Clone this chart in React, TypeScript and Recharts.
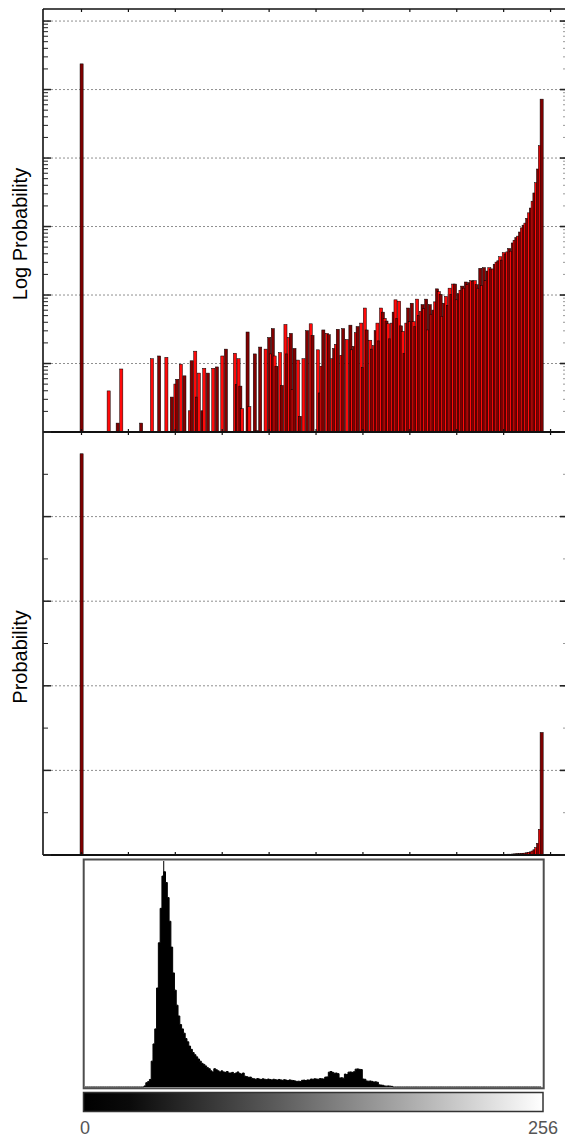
import React from 'react';
import { BarChart, Bar, XAxis, YAxis, CartesianGrid, ReferenceLine, AreaChart, Area } from 'recharts';

// ---------- DATA ----------
// log10 of the probability of each of the 256 bins (null = empty bin)
const logProbability: (number | null)[] = [
  -0.625, null, null, null, null, null, null, null, null, null, null, null, null, null, null, -5.40,
  null, null, null, null, -5.87, null, -5.08, null, null, null, null, null, null, null, null, null,
  null, -5.87, null, null, null, null, null, -4.93, null, null, null, -4.89, null, null, null, -4.91,
  null, null, -5.49, null, -5.30, -5.23, null, -5.01, null, -5.18, null, null, -5.69, -4.96, null, -4.82,
  -5.49, -5.14, null, -5.69, -5.07, null, -5.14, null, null, -5.07, null, -5.05, null, null, -4.89, null,
  -4.79, null, null, null, null, -4.85, -5.31, -4.93, -5.33, -5.66, null, null, -4.54, -5.63, null, null,
  -4.86, -5.98, null, -4.76, null, null, -4.79, null, -4.62, -4.86, -4.49, -4.89, -5.04, null, -4.84, -5.32,
  null, -4.43, -4.86, -4.62, -4.56, -5.38, -4.78, null, -4.95, -5.77, null, -4.93, null, -4.52, null, -4.42,
  -4.59, null, null, -4.80, -5.43, -5.04, -4.51, null, -4.56, -4.58, null, -4.93, -4.78, -4.72, -4.50, null,
  -4.88, -4.49, null, -4.65, null, -4.44, -4.80, -4.75, -4.55, -4.46, null, -4.41, -5.06, -4.19, -4.51, null,
  -4.66, -4.79, -4.74, -4.52, -4.41, -4.67, -4.19, -4.25, -4.34, -4.38, -4.42, -4.64, -4.41, -4.25, -4.07, -4.34,
  -4.09, -4.45, -4.53, -4.85, -4.41, -4.19, -4.39, -4.12, -4.39, -4.46, -4.06, -4.30, -4.24, -4.14, -4.20, -4.06,
  -4.51, -4.14, -4.28, -4.22, -4.10, -3.91, -3.95, -3.99, -4.31, -4.12, -4.02, -4.15, -3.90, -3.99, -3.84, -3.84,
  -4.07, -3.98, -3.93, -3.87, -3.90, -3.81, -3.85, -3.82, -3.79, -3.80, -3.79, -3.85, -3.90, -3.61, -3.86, -3.60,
  -3.79, -3.65, -3.60, -3.62, -3.62, -3.55, -3.52, -3.50, -3.44, -3.49, -3.38, -3.40, -3.37, -3.32, -3.36, -3.24,
  -3.20, -3.16, -3.14, -3.08, -3.02, -2.98, -2.95, -2.88, -2.80, -2.73, -2.63, -2.51, -2.36, -2.16, -1.82, -1.14,
];

// intensity histogram (relative counts, peak = 100) for gray levels 0..255
const histogramCounts: number[] = [
  0, 0, 0, 0, 0, 0, 0, 0, 0, 0, 0, 0, 0, 0, 0, 0,
  0, 0, 0, 0, 0, 0, 0, 0, 0, 0, 0, 0, 0, 0, 0, 0,
  0, 0.5, 2, 2.5, 3.5, 12, 20, 27, 46, 67, 83, 98, 100, 95, 88, 77,
  65, 53, 45, 38, 33, 29, 27, 25, 22.5, 21, 19, 17.5, 16, 15, 14, 13,
  12, 11, 10.5, 9.8, 9, 8.5, 7.5, 7, 8.5, 8, 7.5, 7, 7.5, 7, 6.8, 7.2,
  6.5, 6.5, 6.8, 6.2, 6.5, 7, 6.3, 6, 6.5, 5, 4.8, 4.5, 4.6, 4, 3.8, 3.6,
  3.9, 3.7, 3.5, 3.8, 3.6, 3.4, 3.7, 3.5, 3.3, 3.6, 3.4, 3.2, 3.5, 3.3, 3.1, 3.4,
  3.2, 3.0, 3.3, 3.1, 3.0, 2.8, 2.6, 2.7, 2.5, 3.1, 3.2, 3.0, 3.3, 3.2, 3.7, 3.6,
  3.8, 3.7, 3.6, 3.9, 3.8, 3.7, 4.6, 4.7, 6.9, 7.2, 6.8, 6.4, 6.5, 6.2, 4.2, 4.3,
  4.1, 6.0, 5.8, 6.9, 7.0, 6.8, 7.1, 8.3, 8.4, 8.2, 8.1, 3.7, 3.6, 2.8, 2.7, 2.8,
  2.6, 2.3, 2.4, 2.2, 1.0, 0.9, 0.8, 0.5, 0.4, 0.5, 0.4, 0.3, 0, 0, 0, 0,
  0, 0, 0, 0, 0, 0, 0, 0, 0, 0, 0, 0, 0, 0, 0, 0,
  0, 0, 0, 0, 0, 0, 0, 0, 0, 0, 0, 0, 0, 0, 0, 0,
  0, 0, 0, 0, 0, 0, 0, 0, 0, 0, 0, 0, 0, 0, 0, 0,
  0, 0, 0, 0, 0, 0, 0, 0, 0, 0, 0, 0, 0, 0, 0, 0,
  0, 0, 0, 0, 0, 0, 0, 0, 0, 0, 0, 0, 0, 0, 0, 0,
];

const binTicks = [0, 26, 52, 78, 104, 130, 156, 182, 208, 234, 260];
const logDecades = [1e-6, 1e-5, 1e-4, 1e-3, 1e-2, 1e-1, 1];
const minorMultipliers = [2, 3, 4, 5, 6, 7, 8, 9];
const logGridValues = [1e-5, 1e-4, 1e-3, 1e-2, 1e-1, 1];
const linearTicks = [0, 0.025, 0.05, 0.075, 0.1, 0.125, 0.15, 0.175, 0.2, 0.225, 0.25];
const linearGridValues = [0.05, 0.1, 0.15, 0.2];
const grayTickLabels = [0, 256];
const peakGrayLevel = 44;
const yLabels = ['Log Probability', 'Probability'];

// ---------- derived tables ----------
const barData = logProbability.map((lp, i) => ({
  bin: i,
  p: lp === null ? null : Math.pow(10, lp),
}));
const histData = histogramCounts.map((c, i) => ({ level: i, count: c }));
const LOG_DOMAIN: [number, number] = [1e-6, 1.5];
const logTicks: number[] = [];
logDecades.forEach((d) => {
  logTicks.push(d);
  minorMultipliers.forEach((m) => {
    if (m * d <= LOG_DOMAIN[1]) logTicks.push(m * d);
  });
});

// ---------- layout ----------
const W = 565;
const PLOT_LEFT = 43;
const PLOT_RIGHT = 565;
const X_DOMAIN: [number, number] = [-21.34, 268.0];
const DARK = '#800000';
const BRIGHT = '#ff0a0a';
const BW = 3.1;
const FONT = '"Liberation Sans", Arial, sans-serif';

const barShape = (props: any) => {
  const { x, y, width, height, index } = props;
  if (height == null || !isFinite(y) || !(height > 0.6)) return <g />;
  const cx = x + width / 2;
  return (
    <rect
      x={cx - BW / 2}
      y={y}
      width={BW}
      height={height}
      fill={index % 2 === 0 ? DARK : BRIGHT}
      stroke="#000"
      strokeWidth={0.5}
    />
  );
};

const makeXTick = (top: number, bottom: number) => (props: any) => {
  const { x } = props;
  return (
    <g>
      <line x1={x} x2={x} y1={bottom} y2={bottom - 3} stroke="#111" strokeWidth={1.2} />
      <line x1={x} x2={x} y1={top} y2={top + 3} stroke="#111" strokeWidth={1.2} />
    </g>
  );
};

const makeYTick = (isMajor: (v: number) => boolean) => (props: any) => {
  const { y, payload } = props;
  const major = isMajor(payload.value);
  return (
    <g>
      <line x1={PLOT_LEFT} x2={PLOT_LEFT + (major ? 8 : 5)} y1={y} y2={y} stroke="#222" strokeWidth={major ? 1.5 : 1} />
      <line
        x1={PLOT_RIGHT - (major ? 5 : 2)}
        x2={PLOT_RIGHT}
        y1={y}
        y2={y}
        stroke={major ? '#222' : '#999'}
        strokeWidth={major ? 1.6 : 1}
      />
    </g>
  );
};

const isLogMajor = (v: number) => Math.abs(Math.log10(v) - Math.round(Math.log10(v))) < 1e-6;
const isLinMajor = (v: number) => Math.abs(v / 0.05 - Math.round(v / 0.05)) < 1e-6;

export default function App() {
  const topH = 440;
  const midH = 431;
  return (
    <div style={{ position: 'absolute', left: 0, top: 0, width: W, height: 1137, background: '#fff', overflow: 'hidden' }}>
      {/* Log probability panel */}
      <div style={{ position: 'absolute', left: 0, top: 0 }}>
        <BarChart width={W} height={topH} data={barData} margin={{ top: 9, right: 0, bottom: 7, left: PLOT_LEFT - 1 }} barCategoryGap={0}>
          <CartesianGrid vertical={false} horizontalValues={logGridValues} stroke="#8f8f8f" strokeDasharray="2 2" />
          <XAxis
            dataKey="bin"
            type="number"
            domain={X_DOMAIN}
            allowDataOverflow
            ticks={binTicks}
            interval={0}
            height={1}
            tickLine={false}
            axisLine={{ stroke: '#111', strokeWidth: 1.8 }}
            tick={makeXTick(9, 432)}
          />
          <YAxis
            type="number"
            scale="log"
            domain={LOG_DOMAIN}
            allowDataOverflow
            ticks={logTicks}
            interval={0}
            width={1}
            tickLine={false}
            axisLine={{ stroke: '#111', strokeWidth: 1.6 }}
            tick={makeYTick(isLogMajor)}
          />
          <ReferenceLine y={LOG_DOMAIN[1]} stroke="#111" strokeWidth={1.6} />
          <Bar dataKey="p" isAnimationActive={false} shape={barShape} />
        </BarChart>
      </div>

      {/* Linear probability panel */}
      <div style={{ position: 'absolute', left: 0, top: 432 }}>
        <BarChart width={W} height={midH} data={barData} margin={{ top: 0, right: 0, bottom: 7, left: PLOT_LEFT - 1 }} barCategoryGap={0}>
          <CartesianGrid vertical={false} horizontalValues={linearGridValues} stroke="#8f8f8f" strokeDasharray="2 2" />
          <XAxis
            dataKey="bin"
            type="number"
            domain={X_DOMAIN}
            allowDataOverflow
            ticks={binTicks}
            interval={0}
            height={1}
            tickLine={false}
            axisLine={{ stroke: '#111', strokeWidth: 1.8 }}
            tick={makeXTick(0, 423)}
          />
          <YAxis
            type="number"
            domain={[0, 0.25]}
            allowDataOverflow
            ticks={linearTicks}
            interval={0}
            width={1}
            tickLine={false}
            axisLine={{ stroke: '#111', strokeWidth: 1.6 }}
            tick={makeYTick(isLinMajor)}
          />
          <Bar dataKey="p" isAnimationActive={false} shape={barShape} />
        </BarChart>
      </div>

      {/* Gray-level histogram */}
      <div style={{ position: 'absolute', left: 0, top: 850 }}>
        <AreaChart width={W} height={287} data={histData} margin={{ top: 11, right: 22, bottom: 0, left: 85 }}>
          <XAxis
            dataKey="level"
            type="number"
            domain={[0, 256]}
            ticks={grayTickLabels}
            interval={0}
            height={50}
            axisLine={false}
            tickLine={false}
            tickSize={0}
            tickMargin={34}
            tick={{ fill: '#555', fontSize: 18, fontFamily: FONT }}
          />
          <YAxis hide domain={[0, 105]} />
          <Area
            type="stepAfter"
            dataKey="count"
            stroke="#000"
            strokeWidth={1}
            fill="#000"
            fillOpacity={1}
            dot={false}
            activeDot={false}
            isAnimationActive={false}
          />
          <ReferenceLine x={peakGrayLevel} stroke="#000" strokeWidth={1} />
        </AreaChart>
      </div>

      {/* overlay: axis titles, histogram frame, gray ramp */}
      <svg width={W} height={1137} style={{ position: 'absolute', left: 0, top: 0, pointerEvents: 'none' }}>
        <defs>
          <linearGradient id="grayRamp" x1="0" x2="1" y1="0" y2="0">
            <stop offset="0" stopColor="#000" />
            <stop offset="0.1" stopColor="#0a0a0a" />
            <stop offset="0.43" stopColor="#5e5e5e" />
            <stop offset="0.7" stopColor="#a9a9a9" />
            <stop offset="1" stopColor="#ffffff" />
          </linearGradient>
        </defs>
        <text transform="translate(27,234) rotate(-90)" textAnchor="middle" fontFamily={FONT} fontSize={20} fill="#000">
          {yLabels[0]}
        </text>
        <text transform="translate(27,657) rotate(-90)" textAnchor="middle" fontFamily={FONT} fontSize={20} fill="#000">
          {yLabels[1]}
        </text>
        <rect x={83.7} y={859.5} width={460} height={228.8} fill="none" stroke="#4d4d4d" strokeWidth={2} />
        <rect x={83.5} y={1092.5} width={459.5} height={19} fill="url(#grayRamp)" stroke="#333" strokeWidth={1.5} />
      </svg>
    </div>
  );
}
